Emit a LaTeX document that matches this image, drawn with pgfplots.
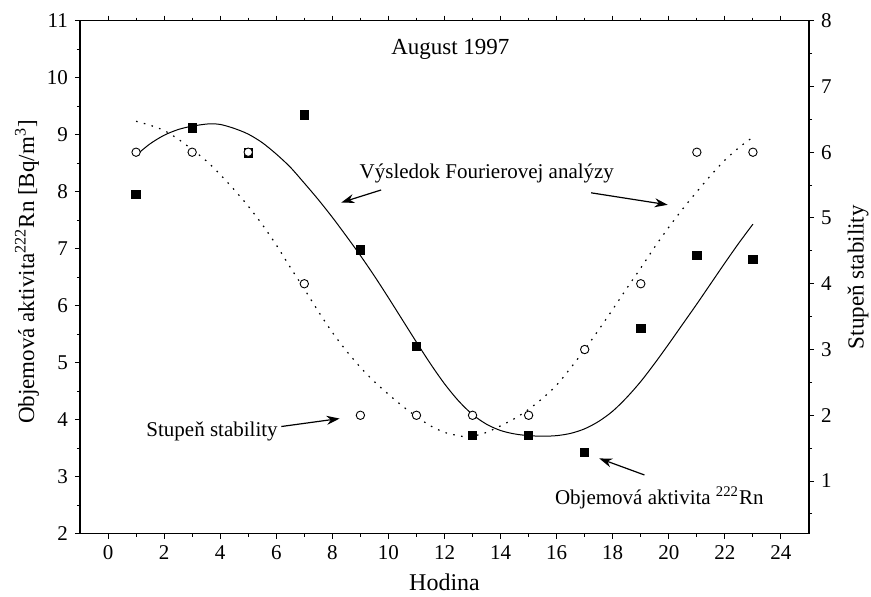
\documentclass[border=0pt]{standalone}
\usepackage{fontspec}
\setmainfont{Liberation Serif}
\usepackage{pgfplots}
\pgfplotsset{compat=1.18}
\usepackage{pgfplotstable}
\usetikzlibrary{arrows.meta}

% Measured 222Rn volume activity (left axis)
\pgfplotstableread{
h  rn
1  7.95
3  9.12
5  8.68
7  9.35
9  6.98
11 5.29
13 3.72
15 3.72
17 3.43
19 5.60
21 6.88
23 6.81
}\rndata

% Stability degree (right axis)
\pgfplotstableread{
h  st
1  6
3  6
5  6
7  4
9  2
11 2
13 2
15 2
17 3
19 4
21 6
23 6
}\stdata

% Fourier fit of Rn (left axis)
\pgfplotstableread{
h    f
1    8.64
1.5  8.84
2    8.99
2.5  9.09
3    9.15
3.6  9.19
4    9.18
4.5  9.11
5    9.01
5.5  8.86
6    8.66
6.5  8.43
7    8.15
7.5  7.86
8    7.55
8.5  7.22
9    6.88
9.5  6.52
10   6.14
10.5 5.75
11   5.36
11.5 4.98
12   4.63
12.5 4.33
13   4.09
13.5 3.92
14   3.81
14.5 3.75
15   3.72
15.5 3.71
16   3.72
16.5 3.76
17   3.84
17.5 3.97
18   4.15
18.5 4.39
19   4.67
19.5 4.99
20   5.33
20.5 5.68
21   6.03
21.5 6.39
22   6.75
22.5 7.10
23   7.43
}\rnfit

% Fourier fit of stability (right axis)
\pgfplotstableread{
h    f
1    6.47
1.5  6.41
2    6.33
2.5  6.20
3    6.04
3.5  5.87
4    5.66
4.5  5.43
5    5.18
5.5  4.90
6    4.59
6.5  4.25
7    3.92
7.5  3.58
8    3.26
8.5  2.98
9    2.73
9.5  2.51
10   2.32
10.5 2.14
11   1.98
11.5 1.84
12   1.74
12.5 1.69
12.8 1.67
13   1.68
13.5 1.74
14   1.84
14.5 1.95
15   2.09
15.5 2.26
16   2.46
16.5 2.72
17   3.00
17.5 3.30
18   3.61
18.5 3.93
19   4.24
19.5 4.56
20   4.86
20.5 5.14
21   5.40
21.5 5.65
22   5.88
22.5 6.07
23   6.23
}\stfit

\begin{document}
\begin{tikzpicture}
\begin{axis}[name=main,
  scale only axis, width=364.5pt, height=256.5pt,
  xmin=-1, xmax=25, ymin=2, ymax=11,
  xtick={0,2,...,24}, minor x tick num=1,
  ytick={2,...,11}, minor y tick num=1,
  ytick pos=left, xtick pos=both, xticklabel pos=bottom,
  tick align=outside,
  major tick length=2.5pt, minor tick length=1.5pt,
  axis line style={line width=0.6pt},
  tick style={black, line width=0.5pt},
  ticklabel style={font=\fontsize{10.5}{12}\selectfont},
  /pgf/number format/assume math mode=true,
  xlabel={Hodina},
  ylabel={Objemová aktivita\textsuperscript{222}Rn [Bq/m\textsuperscript{3}]},
  every axis x label/.style={at={(axis description cs:0.5,-0.094)},anchor=center,font=\fontsize{12}{14}\selectfont},
  every axis y label/.style={at={(axis description cs:-0.0727,0.51)},rotate=90,anchor=center,font=\fontsize{11.5}{14}\selectfont},
]
\addplot[black, line width=0.5pt, smooth, no marks] table[x=h,y=f] {\rnfit};
\addplot[only marks, mark=square*, mark size=2.1pt, black] table[x=h,y=rn] {\rndata};

\node[font=\fontsize{11.5}{14}\selectfont] at (axis cs:12.21,10.50) {August 1997};
\node[font=\fontsize{10.5}{12}\selectfont] at (axis cs:13.51,8.32) {Výsledok Fourierovej analýzy};
\draw[line width=0.6pt, -{Stealth[length=6.5pt,width=4.5pt]}] (axis cs:9.74,8.03) -- (axis cs:8.32,7.81);
\draw[line width=0.6pt, -{Stealth[length=6.5pt,width=4.5pt]}] (axis cs:17.23,7.98) -- (axis cs:19.96,7.77);
\node[font=\fontsize{10.5}{12}\selectfont] at (axis cs:3.71,3.79) {Stupeň stability};
\draw[line width=0.6pt, -{Stealth[length=6.5pt,width=4.5pt]}] (axis cs:6.18,3.88) -- (axis cs:8.26,4.02);
\node[font=\fontsize{10.5}{12}\selectfont] at (axis cs:19.66,2.62) {Objemová aktivita \textsuperscript{222}Rn};
\draw[line width=0.6pt, -{Stealth[length=6.5pt,width=4.5pt]}] (axis cs:19.13,3.03) -- (axis cs:17.52,3.32);
\end{axis}

\begin{axis}[
  scale only axis, width=364.5pt, height=256.5pt,
  xmin=-1, xmax=25, ymin=0.2, ymax=8,
  axis y line*=right, axis x line=none,
  ytick={1,...,8}, minor ytick={0.5,1.5,...,7.5},
  tick align=outside,
  major tick length=2.5pt, minor tick length=1.5pt,
  axis line style={line width=0.6pt},
  tick style={black, line width=0.5pt},
  ticklabel style={font=\fontsize{10.5}{12}\selectfont},
  /pgf/number format/assume math mode=true,
  ylabel={Stupeň stability},
  every axis y label/.style={at={(axis description cs:1.0672,0.5)},rotate=90,anchor=center,font=\fontsize{11.5}{14}\selectfont},
]
\addplot[black, line width=0.6pt, smooth, no marks, dash pattern=on 0.8pt off 3.2pt] table[x=h,y=f] {\stfit};
\addplot[only marks, mark=*, mark size=2.1pt, black, mark options={fill=white, line width=0.45pt}] table[x=h,y=st] {\stdata};
\end{axis}

\pgfresetboundingbox
\path[use as bounding box] ([xshift=-40pt,yshift=-31.65pt]main.south west) rectangle ([xshift=31pt,yshift=10.35pt]main.north east);
\end{tikzpicture}
\end{document}
